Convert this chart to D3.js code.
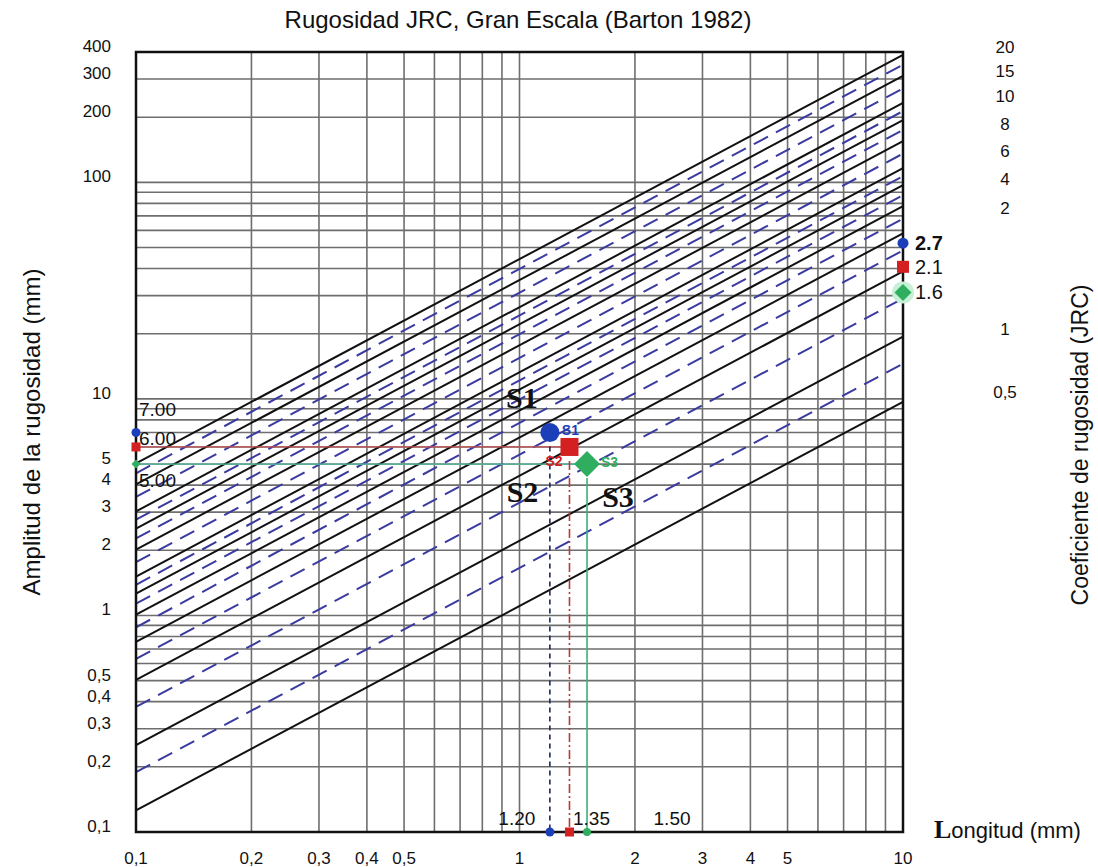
<!DOCTYPE html>
<html>
<head>
<meta charset="utf-8">
<script src="https://cdn.jsdelivr.net/npm/d3@7"></script>
<style>
  body { margin: 0; background: #fff; }
  text { font-family: "Liberation Sans", Arial, sans-serif; fill: #111; }
  .serif { font-family: "Liberation Serif", "Times New Roman", serif; font-weight: bold; }
</style>
</head>
<body>
<svg id="chart" width="1098" height="867"></svg>
<script>
// Axis labels (values on the log scales)
var xTickValues = [0.1, 0.2, 0.3, 0.4, 0.5, 1, 2, 3, 4, 5, 10];
var xTickLabels = ["0,1", "0,2", "0,3", "0,4", "0,5", "1", "2", "3", "4", "5", "10"];
var yTickValues = [400, 300, 200, 100, 10, 5, 4, 3, 2, 1, 0.5, 0.4, 0.3, 0.2, 0.1];
var yTickLabels = ["400", "300", "200", "100", "10", "5", "4", "3", "2", "1", "0,5", "0,4", "0,3", "0,2", "0,1"];

// Right side JRC labels and the amplitude where each one sits
var jrcLabels = ["20", "15", "10", "8", "6", "4", "2", "1", "0,5"];
var jrcLabelAt = [400, 309, 237, 176, 132, 98, 72, 20, 10.2];

// JRC iso-lines (Barton), solid ones and intermediate dashed ones
var jrcSolid = [20, 16, 12, 10, 8, 6, 5, 4, 3, 2, 1, 0.5];
var jrcDashed = [18, 14, 11, 9, 7, 5.5, 4.5, 3.5, 2.5, 1.5, 0.75];
// amplitude (mm) of a JRC=1 line at L=0.1 and at L=10, as read on the chart
var ampAtStart = 0.252;
var ampAtEnd = 19.4;

// Profiles
var samples = ["S1", "S2", "S3"];
var sampleLength = [1.20, 1.35, 1.50];
var sampleAmplitude = [7.00, 6.00, 5.00];
var sampleJrc = [2.7, 2.1, 1.6];
var sampleColor = ["#1b3fb8", "#d42020", "#2fae5f"];
var sampleLineColor = ["#1c2660", "#b83a3a", "#36b27a"];

var svg = d3.select("#chart");

var x = d3.scaleLog().domain([0.1, 10]).range([136, 903]);
var y = d3.scaleLog().domain([0.1, 400]).range([832, 52]);

// amplitude of a JRC line at length L (straight line in log-log)
function jrcAmp(jrc, L) {
    var p = Math.log10(ampAtEnd / ampAtStart) / 2;
    return jrc * ampAtStart * Math.pow(L / 0.1, p);
}

svg.append("defs").append("clipPath").attr("id", "plot")
  .append("rect")
    .attr("x", x(0.1)).attr("y", y(400))
    .attr("width", x(10) - x(0.1)).attr("height", y(0.1) - y(400));

// Grid
var grid = svg.append("g");
grid.selectAll("line.v")
    .data(x.ticks().filter(function(d) { return d > 0.1 && d < 10; }))
  .enter().append("line")
    .attr("x1", function(d) { return x(d); })
    .attr("x2", function(d) { return x(d); })
    .attr("y1", y(400)).attr("y2", y(0.1))
    .attr("stroke", "#6e6e6e").attr("stroke-width", 1.6);
grid.selectAll("line.h")
    .data(y.ticks().filter(function(d) { return d > 0.1 && d < 400; }))
  .enter().append("line")
    .attr("y1", function(d) { return y(d); })
    .attr("y2", function(d) { return y(d); })
    .attr("x1", x(0.1)).attr("x2", x(10))
    .attr("stroke", "#6e6e6e").attr("stroke-width", 1.6);

// JRC lines
var lines = svg.append("g").attr("clip-path", "url(#plot)");
lines.selectAll("line.dash")
    .data(jrcDashed)
  .enter().append("line")
    .attr("x1", x(0.1)).attr("x2", x(10))
    .attr("y1", function(d) { return y(jrcAmp(d, 0.1)); })
    .attr("y2", function(d) { return y(jrcAmp(d, 10)); })
    .attr("stroke", "#3a3aa0").attr("stroke-width", 2)
    .attr("stroke-dasharray", "16,9");
lines.selectAll("line.solid")
    .data(jrcSolid)
  .enter().append("line")
    .attr("x1", x(0.1)).attr("x2", x(10))
    .attr("y1", function(d) { return y(jrcAmp(d, 0.1)); })
    .attr("y2", function(d) { return y(jrcAmp(d, 10)); })
    .attr("stroke", "#111").attr("stroke-width", 2);

// Frame
svg.append("rect")
    .attr("x", x(0.1)).attr("y", y(400))
    .attr("width", x(10) - x(0.1)).attr("height", y(0.1) - y(400))
    .attr("fill", "none").attr("stroke", "#111").attr("stroke-width", 2.5);

// Tick labels
svg.selectAll("text.xt")
    .data(xTickValues)
  .enter().append("text")
    .attr("x", function(d) { return x(d); })
    .attr("y", 864)
    .attr("text-anchor", "middle")
    .style("font-size", "17px")
    .text(function(d, i) { return xTickLabels[i]; });
svg.selectAll("text.yt")
    .data(yTickValues)
  .enter().append("text")
    .attr("x", 111)
    .attr("y", function(d) { return y(d); })
    .attr("text-anchor", "end")
    .style("font-size", "17px")
    .text(function(d, i) { return yTickLabels[i]; });
svg.selectAll("text.jt")
    .data(jrcLabelAt)
  .enter().append("text")
    .attr("x", 1005)
    .attr("y", function(d) { return y(d) + 1; })
    .attr("text-anchor", "middle")
    .style("font-size", "17px")
    .text(function(d, i) { return jrcLabels[i]; });

// Titles
svg.append("text")
    .attr("x", 518).attr("y", 28)
    .attr("text-anchor", "middle")
    .style("font-size", "24px")
    .text("Rugosidad JRC, Gran Escala (Barton 1982)");
svg.append("text")
    .attr("transform", "translate(40,432) rotate(-90)")
    .attr("text-anchor", "middle")
    .style("font-size", "24px")
    .text("Amplitud de la rugosidad (mm)");
svg.append("text")
    .attr("transform", "translate(1088,445) rotate(-90)")
    .attr("text-anchor", "middle")
    .style("font-size", "23px")
    .text("Coeficiente de rugosidad (JRC)");
var lt = svg.append("text").attr("x", 934).attr("y", 838).style("font-size", "22px");
lt.append("tspan").attr("class", "serif").style("font-size", "26px").text("L");
lt.append("tspan").text("ongitud (mm)");

// Guide lines for each profile
var guides = svg.append("g");
// horizontal from the amplitude axis (S2, S3)
guides.selectAll("line.hg")
    .data([1, 2])
  .enter().append("line")
    .attr("x1", x(0.1))
    .attr("x2", function(i) { return x(sampleLength[i]); })
    .attr("y1", function(i) { return y(sampleAmplitude[i]); })
    .attr("y2", function(i) { return y(sampleAmplitude[i]); })
    .attr("stroke", function(i) { return i == 1 ? "#c85050" : "#55c6a6"; })
    .attr("stroke-width", 1.3);
// vertical down to the length axis
guides.selectAll("line.vg")
    .data(d3.range(samples.length))
  .enter().append("line")
    .attr("x1", function(i) { return x(sampleLength[i]); })
    .attr("x2", function(i) { return x(sampleLength[i]); })
    .attr("y1", function(i) { return y(sampleAmplitude[i]) + 14; })
    .attr("y2", y(0.1))
    .attr("stroke", function(i) { return sampleLineColor[i]; })
    .attr("stroke-width", 1.6)
    .attr("stroke-dasharray", function(i) { return ["5,4", "9,3,2,3", null][i]; });

// marker helper: 0 circle, 1 square, 2 diamond
function marker(g, i, cx, cy, s) {
    var c = sampleColor[i];
    if (i == 0)
        g.append("circle").attr("cx", cx).attr("cy", cy).attr("r", s / 2).attr("fill", c);
    else if (i == 1)
        g.append("rect").attr("x", cx - s / 2).attr("y", cy - s / 2)
            .attr("width", s).attr("height", s).attr("fill", c);
    else
        g.append("path")
            .attr("d", "M" + cx + "," + (cy - s / 2) + "L" + (cx + s / 2) + "," + cy +
                  "L" + cx + "," + (cy + s / 2) + "L" + (cx - s / 2) + "," + cy + "Z")
            .attr("fill", c);
}

var marks = svg.append("g");
samples.forEach(function(name, i) {
    // on the amplitude axis
    marker(marks, i, x(0.1), y(sampleAmplitude[i]), 9);
    // on the length axis
    if (i == 2)
        marks.append("circle").attr("cx", x(sampleLength[i])).attr("cy", y(0.1))
            .attr("r", 4).attr("fill", sampleColor[i]);
    else
        marker(marks, i, x(sampleLength[i]), y(0.1), 9);
    // at L = 10, on its JRC line
    var ay = y(jrcAmp(sampleJrc[i], 10));
    if (i == 2)
        marks.append("circle").attr("cx", x(10)).attr("cy", ay).attr("r", 11)
            .attr("fill", "#c8f0d6");
    marker(marks, i, x(10), ay, [11, 12, 17][i]);
    marks.append("text")
        .attr("x", x(10) + 12).attr("y", ay + 7)
        .style("font-size", "20px")
        .style("font-weight", i == 0 ? "bold" : "normal")
        .attr("fill", "#222")
        .text(d3.format(".1f")(sampleJrc[i]));
    // the profile point itself
    marker(marks, i, x(sampleLength[i]), y(sampleAmplitude[i]), [19, 18, 26][i]);
    // small coloured label next to it
    marks.append("text")
        .attr("x", x(sampleLength[i]) + [12, -24, 14][i])
        .attr("y", y(sampleAmplitude[i]) + [3, 19, 3][i])
        .style("font-size", "14px").style("font-weight", "bold")
        .style("fill", sampleColor[i])
        .text(name);
});

// values typed on the axes
svg.selectAll("text.av")
    .data(sampleAmplitude)
  .enter().append("text")
    .attr("x", x(0.1) + 3)
    .attr("y", function(d, i) { return y(d) + [-16, -2, 23][i]; })
    .style("font-size", "19px")
    .attr("fill", "#222")
    .text(function(d) { return d3.format(".2f")(d); });
svg.selectAll("text.lv")
    .data(sampleLength)
  .enter().append("text")
    .attr("x", function(d, i) { return x(d) + [-33, 22, 85][i]; })
    .attr("y", 825)
    .attr("text-anchor", "middle")
    .style("font-size", "19px")
    .attr("fill", "#222")
    .text(function(d) { return d3.format(".2f")(d); });

// big profile names
svg.selectAll("text.big")
    .data(samples)
  .enter().append("text")
    .attr("class", "serif")
    .attr("x", function(d, i) { return x(sampleLength[i]) + [-28, -47, 31][i]; })
    .attr("y", function(d, i) { return y(sampleAmplitude[i]) + [-24, 55, 43][i]; })
    .attr("text-anchor", "middle")
    .style("font-size", "30px")
    .text(function(d) { return d; });
</script>
</body>
</html>
